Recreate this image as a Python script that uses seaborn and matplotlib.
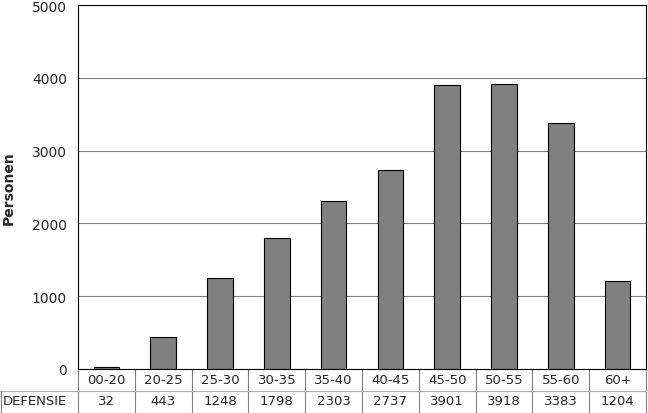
import numpy as np
import pandas as pd
import matplotlib.pyplot as plt
import seaborn as sns

# Daten
leeftijd = ['00-20', '20-25', '25-30', '30-35', '35-40', '40-45', '45-50', '50-55', '55-60', '60+']
defensie = [32, 443, 1248, 1798, 2303, 2737, 3901, 3918, 3383, 1204]
reeks = 'DEFENSIE'

df = pd.DataFrame({'leeftijd': leeftijd, 'personen': defensie})

sns.set_style('white')
plt.rcParams['font.family'] = ['DejaVu Sans']

fig = plt.figure(figsize=(6.48, 4.14), dpi=100)
ax = fig.add_axes([78/648, 44/414, 568/648, 364/414])

sns.barplot(data=df, x='leeftijd', y='personen', color='#808080', saturation=1,
            edgecolor='black', linewidth=0.8, width=0.45, ax=ax, zorder=3)

ax.set_ylim(0, 5000)
ax.set_xlim(-0.5, len(leeftijd) - 0.5)
ax.set_yticks(range(0, 5001, 1000))
ax.yaxis.grid(True, color='#808080', linewidth=0.8, zorder=0)
ax.tick_params(axis='y', direction='out', length=5, width=0.8, color='black', labelsize=10, pad=3)
ax.set_xticks([])
ax.set_xlabel('')
ax.set_ylabel('Personen', fontsize=10, fontweight='bold', labelpad=11.5)
for s in ax.spines.values():
    s.set_color('black')
    s.set_linewidth(0.8)
ax.spines['bottom'].set_zorder(5)

# Datentabelle unter der Achse
tr = ax.get_xaxis_transform()
rij1 = -22/364
rij2 = -44/364
for i, (lab, val) in enumerate(zip(leeftijd, defensie)):
    ax.text(i, -11/364, lab, transform=tr, ha='center', va='center', fontsize=9.5)
    ax.text(i, -32/364, str(val), transform=tr, ha='center', va='center', fontsize=9.5)
for i in range(len(leeftijd) + 1):
    ax.plot([i - 0.5, i - 0.5], [0, rij2], transform=tr, color='#808080', lw=0.8, clip_on=False)
x0 = -0.5 - 78/568 * 10
ax.plot([x0, len(leeftijd) - 0.5], [rij1, rij1], transform=tr, color='#b0b0b0', lw=0.8, clip_on=False)
ax.plot([x0 + 0.01, x0 + 0.01], [rij1, rij2], transform=tr, color='#808080', lw=0.8, clip_on=False)
ax.text(x0 + 0.04, -32/364, reeks, transform=tr, ha='left', va='center', fontsize=9.5)

fig.savefig('out.png', dpi=100)
